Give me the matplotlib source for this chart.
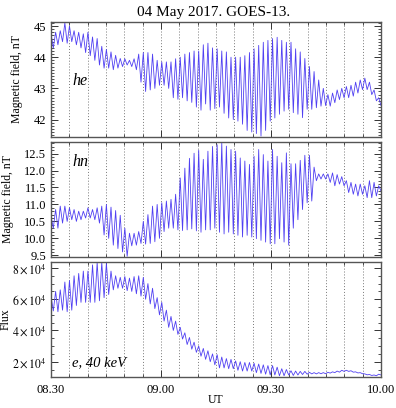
#!/usr/bin/env python3
import numpy as np
import matplotlib
matplotlib.use("Agg")
import matplotlib.pyplot as plt
from matplotlib.ticker import MultipleLocator

plt.rcParams['font.family'] = ['Liberation Serif', 'DejaVu Serif']
plt.rcParams['mathtext.fontset'] = 'stix'

# minutes after 08:30 UT; extrema of the oscillation, 4 cycles per 5 min block
he_hi = [44.75, 44.8, 44.85, 45.1, 45.0, 44.85, 44.8, 44.75,
         44.8, 44.65, 44.6, 44.35, 44.25, 44.17, 44.06, 43.96,
         43.95, 43.9, 43.95, 44.1, 44.15, 44.15, 44.1, 43.9,
         43.85, 43.85, 43.85, 43.95, 44.0, 44.1, 44.15, 44.2,
         44.2, 44.4, 44.45, 44.3, 44.27, 44.2, 44.17, 44.0,
         44.0, 44.0, 44.05, 44.15, 44.27, 44.38, 44.48, 44.54,
         44.6, 44.64, 44.54, 44.48, 44.48, 44.27, 44.17, 43.96,
         43.7, 43.54, 43.27, 43.0, 42.8, 42.85, 42.95, 43.0,
         43.06, 43.1, 43.2, 43.27, 43.33, 43.2, 42.95, 42.7]
he_lo = [44.3, 44.4, 44.5, 44.45, 44.5, 44.4, 44.3, 44.15,
         44.05, 43.9, 43.75, 43.65, 43.65, 43.6, 43.65, 43.7,
         43.75, 43.7, 43.6, 43.2, 42.9, 42.95, 43.0, 43.1,
         43.1, 43.0, 42.7, 42.65, 42.7, 42.6, 42.55, 42.4,
         42.3, 42.5, 42.3, 42.35, 42.4, 42.2, 42.05, 42.0,
         41.95, 41.85, 41.65, 41.6, 41.55, 41.47, 41.65, 41.95,
         42.05, 42.17, 42.27, 42.33, 42.22, 42.17, 42.06, 42.33,
         42.33, 42.38, 42.43, 42.45, 42.43, 42.54, 42.64, 42.7,
         42.7, 42.75, 42.85, 42.96, 42.96, 42.8, 42.6, 42.45]

hn_hi = [10.65, 10.85, 10.95, 10.95, 10.9, 10.85, 10.8, 10.8,
         10.9, 10.85, 10.9, 10.95, 11.0, 10.92, 10.82, 10.68,
         10.3, 10.15, 10.15, 10.2, 10.5, 10.7, 10.95, 11.0,
         11.05, 11.1, 11.15, 11.3, 11.78, 12.07, 12.36, 12.51,
         12.6, 12.33, 12.57, 12.71, 12.76, 12.81, 12.72, 12.62,
         12.57, 12.37, 12.28, 12.18, 12.42, 12.62, 12.47, 12.28,
         12.62, 12.42, 12.23, 12.52, 12.2, 12.2, 12.3, 12.45,
         12.45, 12.1, 11.9, 11.9, 11.9, 11.93, 11.88, 11.82,
         11.7, 11.65, 11.6, 11.6, 11.55, 11.7, 11.65, 11.55]
hn_lo = [10.3, 10.3, 10.45, 10.5, 10.55, 10.5, 10.55, 10.6,
         10.6, 10.55, 10.45, 10.1, 10.0, 9.8, 9.7, 9.6,
         9.47, 9.78, 9.8, 9.85, 9.83, 9.85, 9.9, 10.0,
         10.2, 10.3, 10.3, 10.25, 10.23, 10.25, 10.28, 10.22,
         10.18, 10.25, 10.25, 10.3, 10.18, 10.13, 10.18, 10.13,
         10.09, 10.04, 10.09, 10.04, 9.99, 9.94, 9.89, 9.84,
         9.84, 9.99, 9.89, 9.8, 10.3, 10.55, 10.85, 11.05,
         11.1, 11.7, 11.75, 11.75, 11.65, 11.55, 11.6, 11.55,
         11.35, 11.3, 11.25, 11.3, 11.2, 11.2, 11.25, 11.4]

# electron flux, units of 1e4
flux_hi = [6.2, 6.5, 6.6, 7.1, 7.2, 7.5, 7.65, 7.8,
           7.8, 8.2, 8.35, 8.35, 8.3, 7.8, 7.5, 7.4,
           7.45, 7.35, 7.45, 7.5, 7.4, 7.0, 6.7, 6.1,
           5.8, 5.3, 4.9, 4.6, 4.2, 3.85, 3.55, 3.25,
           3.0, 2.85, 2.7, 2.5, 2.45, 2.3, 2.2, 2.15,
           2.05, 2.0, 1.95, 1.95, 1.9, 1.85, 1.8, 1.75,
           1.75, 1.65, 1.55, 1.5, 1.42, 1.4, 1.38, 1.38,
           1.32, 1.3, 1.3, 1.3, 1.32, 1.35, 1.4, 1.45,
           1.45, 1.42, 1.35, 1.3, 1.22, 1.18, 1.15, 1.2]
flux_lo = [5.25, 5.2, 5.3, 5.2, 5.3, 5.6, 5.8, 5.8,
           5.8, 5.8, 5.9, 6.1, 6.3, 6.6, 6.7, 6.7,
           6.55, 6.5, 6.35, 6.2, 6.0, 5.7, 5.4, 5.0,
           4.6, 4.2, 4.0, 3.75, 3.45, 3.1, 2.8, 2.6,
           2.35, 2.15, 2.0, 1.8, 1.6, 1.6, 1.55, 1.55,
           1.45, 1.4, 1.4, 1.4, 1.3, 1.25, 1.2, 1.15,
           1.15, 1.1, 1.1, 1.15, 1.12, 1.15, 1.18, 1.2,
           1.22, 1.22, 1.23, 1.23, 1.27, 1.3, 1.33, 1.38,
           1.38, 1.33, 1.28, 1.23, 1.16, 1.12, 1.1, 1.15]

xtick_pos = [0, 30, 60, 90]
xtick_lab = ['08.30', '09.00', '09.30', '10.00']
grid_pos = list(range(5, 90, 5))

LINE = '#5040f2'


def series(hi, lo, scale=1.0):
    v = np.empty(2 * len(hi))
    v[0::2] = hi
    v[1::2] = lo
    t = np.linspace(0, 90, len(v))
    return t, v * scale


def style(ax):
    ax.set_xlim(0, 90)
    ax.set_xticks(xtick_pos)
    ax.xaxis.set_minor_locator(MultipleLocator(5))
    for x in grid_pos:
        ax.axvline(x, color='#777777', ls=(0, (1, 2)), lw=0.7, zorder=0)
    ax.tick_params(which='both', direction='in', top=True, right=True,
                   labelsize=9, colors='#333333', labelcolor='black')
    ax.tick_params(which='major', length=5, width=0.7)
    ax.tick_params(which='minor', length=2.5, width=0.6)
    for s in ax.spines.values():
        s.set_color('#555555')
        s.set_linewidth(1.0)


fig = plt.figure(figsize=(3.96, 4.08), dpi=100)
ax1 = fig.add_axes([0.1288, 0.665, 0.8333, 0.2803])
ax2 = fig.add_axes([0.1288, 0.3701, 0.8333, 0.2826])
ax3 = fig.add_axes([0.1288, 0.0752, 0.8333, 0.2833])

t, v = series(he_hi, he_lo)
ax1.plot(t, v, color=LINE, lw=0.6)
ax1.set_ylim(41.45, 45.12)
ax1.set_yticks([42, 43, 44, 45])
ax1.yaxis.set_minor_locator(MultipleLocator(0.1))
style(ax1)
ax1.set_xticklabels([])
ax1.set_ylabel('Magnetic field, nT', fontsize=8.5)
ax1.yaxis.set_label_coords(-0.085, 0.5)
ax1.text(0.065, 0.45, 'he', transform=ax1.transAxes, fontsize=11.5, style='italic')

t, v = series(hn_hi, hn_lo)
ax2.plot(t, v, color=LINE, lw=0.6)
ax2.set_ylim(9.45, 12.85)
ax2.set_yticks([9.5, 10.0, 10.5, 11.0, 11.5, 12.0, 12.5])
ax2.set_yticklabels(['9.5', '10.0', '10.5', '11.0', '11.5', '12.0', '12.5'])
ax2.yaxis.set_minor_locator(MultipleLocator(0.1))
style(ax2)
ax2.set_xticklabels([])
ax2.set_ylabel('Magnetic field, nT', fontsize=8.5)
ax2.yaxis.set_label_coords(-0.112, 0.5)
ax2.text(0.065, 0.79, 'hn', transform=ax2.transAxes, fontsize=11.5, style='italic')

t, v = series(flux_hi, flux_lo, 1e4)
ax3.plot(t, v, color=LINE, lw=0.6)
ax3.set_ylim(1.0e4, 8.4e4)
ax3.set_yticks([2e4, 4e4, 6e4, 8e4])
ax3.set_yticklabels([r'$2\times10^4$', r'$4\times10^4$', r'$6\times10^4$', r'$8\times10^4$'])
ax3.yaxis.set_minor_locator(MultipleLocator(5000))
style(ax3)
ax3.tick_params(axis='y', labelsize=8.5, pad=3)
ax3.set_xticklabels(xtick_lab)
ax3.tick_params(axis='x', pad=5)
ax3.set_ylabel('Flux', fontsize=8.5)
ax3.yaxis.set_label_coords(-0.118, 0.5)
ax3.text(0.065, 0.1, 'e, 40 keV', transform=ax3.transAxes, fontsize=10.5, style='italic')

fig.text(0.545, 1 - 400 / 408, 'UT', ha='center', va='center', fontsize=8.5)
fig.text(0.54, 0.97, '04 May 2017. GOES-13.', ha='center', va='center', fontsize=11)

fig.savefig('out.png', dpi=100)
